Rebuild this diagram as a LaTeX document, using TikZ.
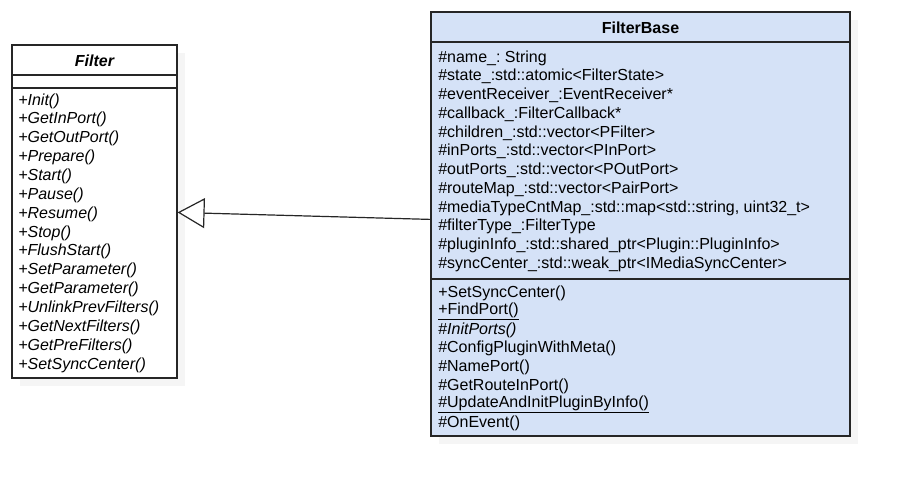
\documentclass[tikz,border=0pt]{standalone}
\usepackage{fontspec}
\setmainfont{Liberation Sans}
\usetikzlibrary{arrows.meta,calc}
\definecolor{fbfill}{HTML}{D5E2F7}
\definecolor{shadowgray}{HTML}{F5F5F5}
\frenchspacing
\begin{document}
\begin{tikzpicture}[x=0.75pt,y=-0.75pt,
  classbox/.style={draw=black!85, line width=0.9pt, rectangle, inner sep=0pt},
  shadowbox/.style={fill=shadowgray, draw=none, rectangle, inner sep=0pt},
  member/.style={anchor=west, inner sep=0pt, font=\fontsize{12}{14}\selectfont\frenchspacing},
  titletext/.style={inner sep=0pt, font=\fontsize{12}{14}\selectfont\bfseries},
  sepline/.style={draw=black!85, line width=0.9pt},
  inherit/.style={draw=black!85, line width=0.9pt, -{Triangle[open, length=20.25pt, width=22.5pt, fill=white]}}
]
\useasboundingbox (0,0) rectangle (900,487);
\fill[white] (0,0) rectangle (900,487);

% shadows
\node[shadowbox, minimum width=123.75pt, minimum height=249.75pt] (filtershadow) at (102.5,219.5) {};
\node[shadowbox, minimum width=314.25pt, minimum height=318pt] (fbshadow) at (648.5,232) {};

% Filter class
\node[classbox, fill=white, minimum width=123.75pt, minimum height=249.75pt] (filter) at (94.5,211.5) {};
\draw[sepline] (12,75) -- (177,75);
\draw[sepline] (12,88) -- (177,88);
\node[titletext] (filtertitle) at (94.5,60.5) {\itshape Filter};
\foreach \t [count=\i from 0] in {+Init(),+GetInPort(),+GetOutPort(),+Prepare(),+Start(),+Pause(),+Resume(),+Stop(),+FlushStart(),+SetParameter(),+GetParameter(),+UnlinkPrevFilters(),+GetNextFilters(),+GetPreFilters(),+SetSyncCenter()}
  \node[member] (fm\i) at (18,{101+18.85*\i}) {\itshape\t};

% FilterBase class
\node[classbox, fill=fbfill, minimum width=314.25pt, minimum height=318pt] (fb) at (640.5,224) {};
\draw[sepline] (431,42) -- (850,42);
\draw[sepline] (431,279) -- (850,279);
\node[titletext] (fbtitle) at (640.5,28) {FilterBase};
\foreach \t [count=\i from 0] in {{\#name\_: String},{\#state\_:std::atomic<FilterState>},{\#eventReceiver\_:EventReceiver*},{\#callback\_:FilterCallback*},{\#children\_:std::vector<PFilter>},{\#inPorts\_:std::vector<PInPort>},{\#outPorts\_:std::vector<POutPort>},{\#routeMap\_:std::vector<PairPort>},{\#mediaTypeCntMap\_:std::map<std::string, uint32\_t>},{\#filterType\_:FilterType},{\#pluginInfo\_:std::shared\_ptr<Plugin::PluginInfo>},{\#syncCenter\_:std::weak\_ptr<IMediaSyncCenter>}}
  \node[member] (fa\i) at (438,{58+18.75*\i}) {\t};

\node[member] (fo0) at (438,293) {+SetSyncCenter()};
\node[member] (fo1) at (438,311.6) {\underline{+FindPort()}};
\node[member] (fo2) at (438,330.2) {\#\textit{InitPorts()}};
\node[member] (fo3) at (438,348.8) {\#ConfigPluginWithMeta()};
\node[member] (fo4) at (438,367.4) {\#NamePort()};
\node[member] (fo5) at (438,386) {\#GetRouteInPort()};
\node[member] (fo6) at (438,404.6) {\underline{\#UpdateAndInitPluginByInfo()}};
\node[member] (fo7) at (438,423.2) {\#OnEvent()};

% generalization
\draw[inherit] ($(fb.north west)+(0,208)$) -- ($(filter.north east)+(0,168)$);
\end{tikzpicture}
\end{document}
